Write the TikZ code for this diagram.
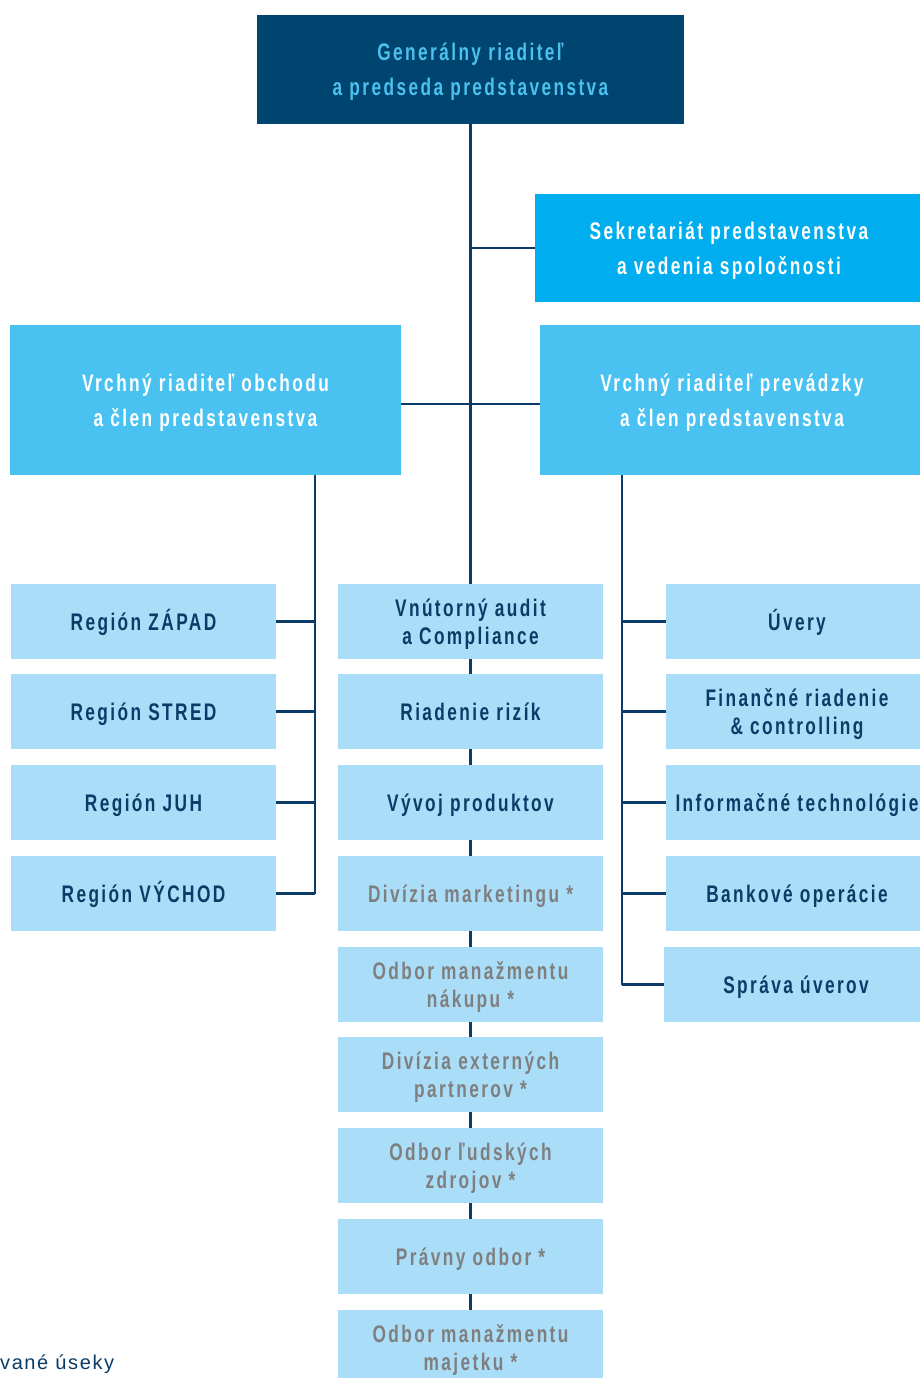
\documentclass[tikz,border=0pt]{standalone}
\usepackage{fontspec}
\setmainfont{Liberation Sans}[FakeStretch=0.72, LetterSpace=10]
\newfontfamily\notefont{Liberation Sans}[LetterSpace=8]
\definecolor{navy}{HTML}{00456F}
\definecolor{topfg}{HTML}{4CC1EE}
\definecolor{cyanbox}{HTML}{00AEEF}
\definecolor{vpblue}{HTML}{49C2F1}
\definecolor{pale}{HTML}{AADDF8}
\definecolor{ink}{HTML}{0B3C68}
\definecolor{grayt}{HTML}{7F7F7F}
\begin{document}
\begin{tikzpicture}[x=1pt,y=-1pt,
  box/.style={rectangle, inner sep=0pt, outer sep=0pt, align=center, text height=17pt, text depth=0pt},
  bigbox/.style={box, font=\fontsize{24}{35}\selectfont\bfseries, text height=52pt},
  unit/.style={box, fill=pale, minimum height=75pt, text=ink,
    font=\fontsize{24}{28}\selectfont\bfseries},
  two/.style={text height=45pt},
  central/.style={unit, text=grayt},
  conn/.style={draw=ink, line width=2.5pt}]
\fill[white] (0,0) rectangle (919,1378);
\useasboundingbox (0,0) rectangle (919,1378);

% top boxes
\node[bigbox, fill=navy, text=topfg, minimum width=427pt, minimum height=109pt] (gd) at (470.5,69.5) {Generálny riaditeľ\\a predseda predstavenstva};
\node[bigbox, fill=cyanbox, text=white, minimum width=388pt, minimum height=108pt] (sek) at (729,248) {Sekretariát predstavenstva\\a vedenia spoločnosti};
\node[bigbox, fill=vpblue, text=white, minimum width=391pt, minimum height=150pt] (vpl) at (205.5,400) {Vrchný riaditeľ obchodu\\a člen predstavenstva};
\node[bigbox, fill=vpblue, text=white, minimum width=384pt, minimum height=150pt] (vpr) at (732,400) {Vrchný riaditeľ prevádzky\\a člen predstavenstva};

% left column
\node[unit, minimum width=265pt] (r1) at (143.5,621.5) {Región ZÁPAD};
\node[unit, minimum width=265pt] (r2) at (143.5,711.5) {Región STRED};
\node[unit, minimum width=265pt] (r3) at (143.5,802.5) {Región JUH};
\node[unit, minimum width=265pt] (r4) at (143.5,893.5) {Región VÝCHOD};

% right column
\node[unit, minimum width=262pt] (p1) at (797,621.5) {Úvery};
\node[unit, two, minimum width=262pt] (p2) at (797,711.5) {Finančné riadenie\\\& controlling};
\node[unit, minimum width=262pt] (p3) at (797,802.5) {Informačné technológie};
\node[unit, minimum width=262pt] (p4) at (797,893.5) {Bankové operácie};
\node[unit, minimum width=264pt] (p5) at (796,984.5) {Správa úverov};

% connectors (drawn before central boxes)
\coordinate (lb) at (315,475);
\coordinate (rb) at (622,475);
\coordinate (c9) at (470.5,1347.5);
\draw[conn] (gd.south) -- (c9);
\draw[conn] (gd.south |- sek.west) -- (sek.west);
\draw[conn] ([yshift=-4pt]vpl.east) -- ([yshift=-4pt]vpr.west);
\draw[conn] (lb) -- (lb |- r4.east);
\foreach \n in {r1,r2,r3,r4} \draw[conn] (\n.east) -- (lb |- \n.east);
\draw[conn] (rb) -- (rb |- p5.west);
\foreach \n in {p1,p2,p3,p4,p5} \draw[conn] (\n.west) -- (rb |- \n.west);

% central column
\node[unit, two, minimum width=265pt] (c1) at (470.5,621.5) {Vnútorný audit\\a Compliance};
\node[unit, minimum width=265pt] (c2) at (470.5,711.5) {Riadenie rizík};
\node[unit, minimum width=265pt] (c3) at (470.5,802.5) {Vývoj produktov};
\node[central, minimum width=265pt] (c4) at (470.5,893.5) {Divízia marketingu *};
\node[central, two, minimum width=265pt] (c5) at (470.5,984.5) {Odbor manažmentu\\nákupu *};
\node[central, two, minimum width=265pt] (c6) at (470.5,1074.5) {Divízia externých\\partnerov *};
\node[central, two, minimum width=265pt] (c7) at (470.5,1165.5) {Odbor ľudských\\zdrojov *};
\node[central, minimum width=265pt] (c8) at (470.5,1256.5) {Právny odbor *};
\node[central, two, minimum width=265pt] (c9n) at (470.5,1347.5) {Odbor manažmentu\\majetku *};

% note
\node[anchor=west, inner sep=0pt, text=ink, font=\notefont\fontsize{20}{22}\selectfont] (note) at (0,1364) {vané úseky};
\end{tikzpicture}
\end{document}
